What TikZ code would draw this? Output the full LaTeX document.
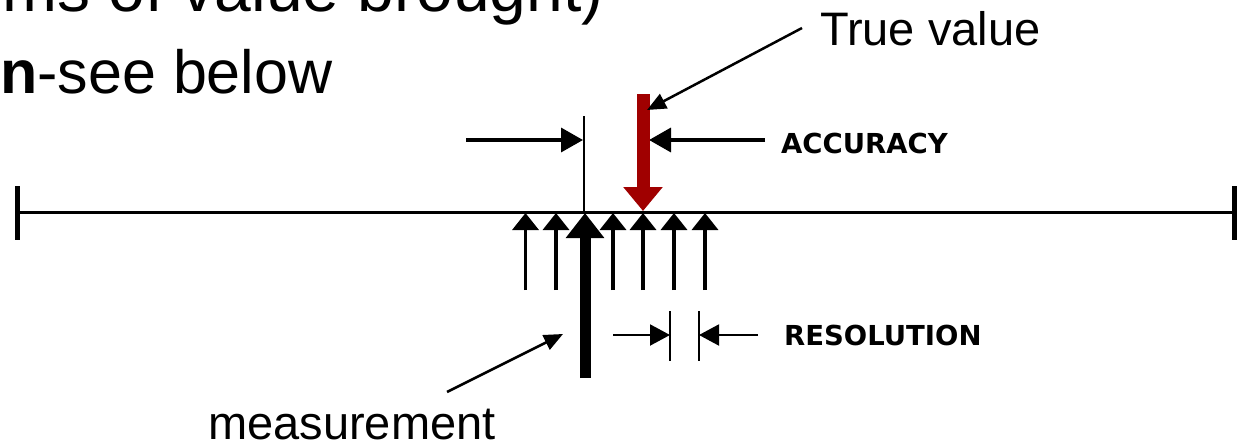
\documentclass[tikz,border=0pt]{standalone}
\usepackage{fontspec}
\setmainfont{Liberation Sans}
\newfontfamily\capsfont{DejaVu Sans}
\usetikzlibrary{arrows.meta}
\definecolor{truered}{RGB}{160,0,0}
\begin{document}
\begin{tikzpicture}[x=1pt,y=-1pt,
  toptext/.style={font=\fontsize{66}{78}\selectfont, inner sep=0pt, anchor=base west},
  bigtext/.style={font=\fontsize{61}{72}\selectfont, inner sep=0pt, anchor=base west},
  callout/.style={font=\fontsize{47}{56}\selectfont, inner sep=0pt, anchor=base west},
  capslabel/.style={font=\capsfont\bfseries\fontsize{27.5}{32}\selectfont, inner sep=0pt, anchor=west},
  dimarrow/.style={line width=3.5pt, -{Triangle[length=22pt,width=24pt]}},
  resarrow/.style={line width=2pt, -{Triangle[length=20pt,width=21pt]}},
  bar/.style={line width=2pt},
  reading/.style={line width=3.5pt, -{Triangle[length=17pt,width=26pt]}},
  mainreading/.style={line width=11pt, -{Triangle[length=25pt,width=37pt]}},
  truearrow/.style={truered, line width=13pt, -{Triangle[length=24pt,width=38pt]}},
  pointer/.style={line width=2.5pt, -{Triangle[length=19pt,width=16pt]}}
]
\useasboundingbox (0,0) rectangle (1241,447);
\clip (0,0) rectangle (1241,447);

% text
\node[toptext] (l1) at (-20,11) {rms of value brought)};
\node[bigtext] (l2) at (0,93) {\textbf{n}-see below};
\node[callout] (tv) at (820,45) {True value};
\node[callout] (meas) at (208,439) {measurement};
\node[capslabel] (acc) at (781,143) {ACCURACY};
\node[capslabel] (res) at (784,335) {RESOLUTION};

% scale line
\coordinate (L) at (17,212);
\coordinate (R) at (1234,212);
\coordinate (Lt) at (17,186);
\coordinate (Lb) at (17,240);
\coordinate (Rt) at (1234,186);
\coordinate (Rb) at (1234,240);
\draw[line width=3pt] (L) -- (R);
\draw[line width=5pt] (Lt) -- (Lb);
\draw[line width=5pt] (Rt) -- (Rb);

% accuracy
\coordinate (av0) at (584,116);
\coordinate (av1) at (584,212);
\draw[bar] (av0) -- (av1);
\coordinate (al0) at (466,140);
\coordinate (al1) at (583,140);
\draw[dimarrow] (al0) -- (al1);
\coordinate (ar0) at (765,140);
\coordinate (ar1) at (649,140);
\draw[dimarrow] (ar0) -- (ar1);

% readings
\foreach \i/\xx in {1/525.5,2/556,4/613,5/643,6/674,7/705}{
  \coordinate (rb\i) at (\xx,290);
  \coordinate (rt\i) at (\xx,213);
  \draw[reading] (rb\i) -- (rt\i);
}
\coordinate (mb) at (585,378);
\coordinate (mt) at (585,213);
\draw[mainreading] (mb) -- (mt);

% true value arrow
\coordinate (t0) at (643,94);
\coordinate (t1) at (643,211);
\draw[truearrow] (t0) -- (t1);

% resolution
\coordinate (rs0) at (670,311);
\coordinate (rs1) at (670,361);
\coordinate (rs2) at (699,311);
\coordinate (rs3) at (699,361);
\draw[bar] (rs0) -- (rs1);
\draw[bar] (rs2) -- (rs3);
\coordinate (ra0) at (613,335);
\coordinate (ra1) at (670,335);
\coordinate (ra2) at (758,335);
\coordinate (ra3) at (699,335);
\draw[resarrow] (ra0) -- (ra1);
\draw[resarrow] (ra2) -- (ra3);

% pointers
\coordinate (tp0) at (802,28);
\coordinate (tp1) at (647,110);
\draw[pointer] (tp0) -- (tp1);
\coordinate (mp0) at (447,392);
\coordinate (mp1) at (563,334);
\draw[pointer] (mp0) -- (mp1);
\end{tikzpicture}
\end{document}
